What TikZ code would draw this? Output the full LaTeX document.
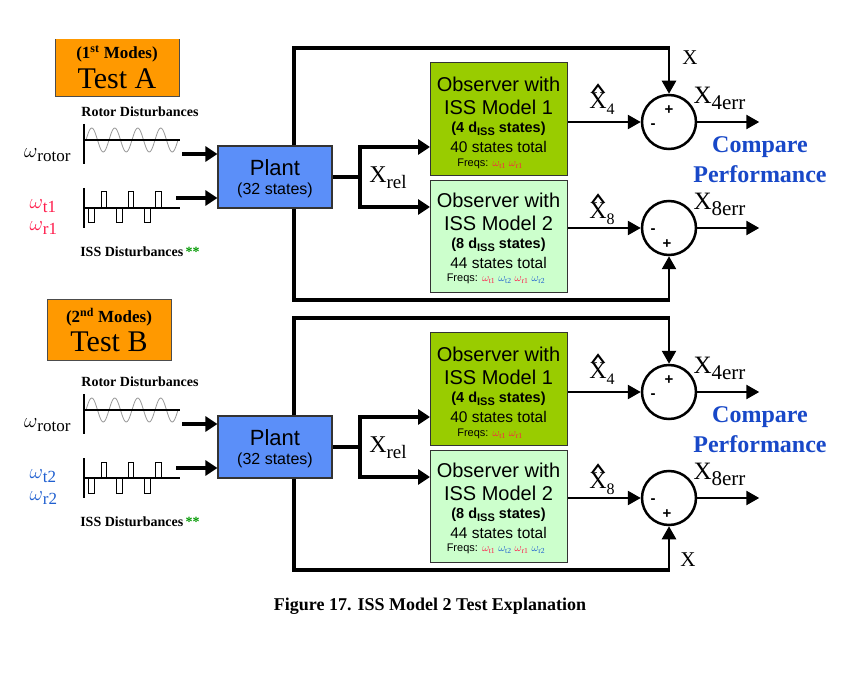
\documentclass[tikz,border=0pt]{standalone}
\usepackage{fontspec}
\setmainfont{Liberation Serif}
\setsansfont{Liberation Sans}
\usetikzlibrary{arrows.meta}
\definecolor{orng}{HTML}{FF9900}
\definecolor{plantc}{HTML}{5B8FF9}
\definecolor{obsA}{HTML}{99CC00}
\definecolor{obsB}{HTML}{CCFFCC}
\definecolor{wred}{HTML}{FF1A4A}
\definecolor{wblue}{HTML}{1F5FD0}
\definecolor{cmpblue}{HTML}{1848C8}
\begin{document}
\begin{tikzpicture}[x=1pt,y=-1pt,
  thick arrow/.style={line width=4pt,-{Triangle[length=12pt,width=15pt]}},
  bus/.style={line width=4pt},
  thin arrow/.style={line width=2.5pt,-{Triangle[length=13pt,width=14pt]}},
  blk/.style={draw=black!80,line width=1.2pt,inner sep=0pt,font=\sffamily,align=center},
  sum/.style={circle,draw,line width=2.5pt,minimum size=54pt,inner sep=0pt},
  lbl/.style={font=\bfseries\fontsize{14}{14}\selectfont},
  ol/.style={font=\sffamily\fontsize{20}{20}\selectfont,inner sep=0pt},
  os/.style={font=\sffamily\fontsize{15.5}{16}\selectfont,inner sep=0pt},
  cmp/.style={text=cmpblue,font=\bfseries\fontsize{24}{30}\selectfont,align=center},
  pm/.style={font=\sffamily\bfseries\fontsize{15}{15}\selectfont}]
\useasboundingbox[fill=white] (0,0) rectangle (860,695);
\newcommand\myhalf[7]{%
 \begin{scope}[yshift=-#1pt]
  \node[draw=black!70,line width=1pt,fill=orng,minimum width=124pt,minimum height=60pt,inner sep=0pt] (test#2) at (#6) {};
  \node[font=\fontsize{30}{30}\selectfont,inner sep=0pt] at ([yshift=-12pt]test#2.center) {#3};
  \node[font=\bfseries\fontsize{17}{17}\selectfont,inner sep=0pt] at ([yshift=13pt]test#2.center) {(#4 Modes)};
  \node[lbl] (rd#2) at (140,112) {Rotor Disturbances};
  \draw[gray!80,line width=0.8pt] plot[domain=86:178,samples=90] (\x,{140-12*sin((\x-86)*15.652)});
  \draw[line width=1.2pt] (84,124) -- (84,164) (84,140) -- (180,140);
  \node[font=\fontsize{22}{22}\selectfont,anchor=east] (wr#2) at (74,155) {$\omega$\raisebox{-4pt}{\fontsize{17}{17}\selectfont rotor}};
  \draw[line width=1.2pt] (84,188) -- (84,228) (84,208) -- (180,208);
  \draw[line width=1pt] (86,208) -- (88,208) -- (88,223) -- (94,223) -- (94,208) -- (101,208) -- (101,192) -- (106,192) -- (106,208)
     -- (116,208) -- (116,223) -- (122,223) -- (122,208) -- (128,208) -- (128,192) -- (133,192) -- (133,208)
     -- (144,208) -- (144,223) -- (150,223) -- (150,208) -- (155,208) -- (155,192) -- (161,192) -- (161,208) -- (178,208);
  \node[font=\fontsize{22}{22}\selectfont,text=#5,anchor=west] (wt#2) at (26,206) {$\omega$\raisebox{-4pt}{\fontsize{17}{17}\selectfont t#7}};
  \node[font=\fontsize{22}{22}\selectfont,text=#5,anchor=west] (wq#2) at (26,228) {$\omega$\raisebox{-4pt}{\fontsize{17}{17}\selectfont r#7}};
  \node[lbl] (iss#2) at (140,252) {ISS Disturbances\,\textcolor{green!60!black}{**}};
  \node[blk,fill=plantc,minimum width=114pt,minimum height=62pt] (plant#2) at (275,177) {};
  \node[font=\sffamily\fontsize{22}{22}\selectfont,inner sep=0pt] at (275,168) {Plant};
  \node[font=\sffamily\fontsize{16}{16}\selectfont,inner sep=0pt] at (275,190) {(32 states)};
  \coordinate (c1#2) at (182,154); \coordinate (c2#2) at (176,198);
  \draw[thick arrow] (c1#2) -- (c1#2 -| plant#2.west);
  \draw[thick arrow] (c2#2) -- (c2#2 -| plant#2.west);
  \node[blk,fill=obsA,minimum width=137pt,minimum height=113pt,anchor=north west] (oa#2) at (430,62) {};
  \node[ol] at (498.5,84) {Observer with};
  \node[ol] at (498.5,107) {ISS Model 1};
  \node[os,font=\sffamily\bfseries\fontsize{14.5}{15}\selectfont] at (498.5,129) {(4 d\raisebox{-3pt}{\fontsize{11}{11}\selectfont ISS} states)};
  \node[os] at (498.5,147) {40 states total};
  \node[inner sep=0pt,font=\sffamily\fontsize{11}{11}\selectfont] at (490,164) {Freqs: \textcolor{wred}{$\omega_{\mathrm{t1}}$ $\omega_{\mathrm{r1}}$}};
  \node[blk,fill=obsB,minimum width=137pt,minimum height=112pt,anchor=north west] (ob#2) at (430,180) {};
  \node[ol] at (498.5,200) {Observer with};
  \node[ol] at (498.5,223) {ISS Model 2};
  \node[os,font=\sffamily\bfseries\fontsize{14.5}{15}\selectfont] at (498.5,245) {(8 d\raisebox{-3pt}{\fontsize{11}{11}\selectfont ISS} states)};
  \node[os] at (498.5,263) {44 states total};
  \node[inner sep=0pt,font=\sffamily\fontsize{11}{11}\selectfont] at (496,279) {Freqs: \textcolor{wred}{$\omega_{\mathrm{t1}}$} \textcolor{wblue}{$\omega_{\mathrm{t2}}$} \textcolor{wred}{$\omega_{\mathrm{r1}}$} \textcolor{wblue}{$\omega_{\mathrm{r2}}$}};
  \coordinate (bus#2) at (360,177);
  \draw[bus] (plant#2.east |- bus#2) -- (bus#2);
  \draw[bus] (360,145) -- (360,209);
  \draw[thick arrow] (360,147) -- (oa#2.west |- 0,147);
  \draw[thick arrow] (360,207) -- (ob#2.west |- 0,207);
  \node[font=\fontsize{24}{24}\selectfont] (xr#2) at (388,178) {X\raisebox{-6pt}{\fontsize{19}{19}\selectfont rel}};
  \node[sum] (s1#2) at (669,122) {};
  \node[sum] (s2#2) at (669,228) {};
  \node[pm] at (669,110) {+};
  \node[pm] at (653,126) {-};
  \node[pm] at (653,231) {-};
  \node[pm] at (667,244) {+};
  \draw[thin arrow] (oa#2.east |- s1#2) -- (s1#2.west);
  \draw[thin arrow] (ob#2.east |- s2#2) -- (s2#2.west);
  \draw[thin arrow] (s1#2.east) -- ++(62,0);
  \draw[thin arrow] (s2#2.east) -- ++(62,0);
  \draw[line width=4pt] (plant#2.north -| 294,0) -- (294,48) -- (669,48);
  \draw[thin arrow] (669,46) -- (s1#2.north);
  \draw[line width=4pt] (plant#2.south -| 294,0) -- (294,300) -- (669,300);
  \draw[thin arrow] (669,302) -- (s2#2.south);
  \node[font=\fontsize{24}{24}\selectfont] (xh4#2) at (602,104) {X\raisebox{-6pt}{\fontsize{16}{16}\selectfont 4}};
  \draw[line width=2pt] (592,93) -- (598,85) -- (604,93);
  \node[font=\fontsize{24}{24}\selectfont] (xh8#2) at (602,214) {X\raisebox{-6pt}{\fontsize{16}{16}\selectfont 8}};
  \draw[line width=2pt] (592,203) -- (598,195) -- (604,203);
  \node[font=\fontsize{25}{25}\selectfont,anchor=west] (e4#2) at (690,98) {X\raisebox{-6pt}{\fontsize{21}{21}\selectfont 4err}};
  \node[font=\fontsize{25}{25}\selectfont,anchor=west] (e8#2) at (690,204) {X\raisebox{-6pt}{\fontsize{21}{21}\selectfont 8err}};
  \node[cmp] (cp#2) at (760,160) {Compare\\Performance};
 \end{scope}}
\myhalf{0}{A}{Test A}{1\textsuperscript{st}}{wred}{117,67}{1}
\myhalf{270}{B}{Test B}{2\textsuperscript{nd}}{wblue}{109,60}{2}
\node[font=\fontsize{21}{21}\selectfont] (xa) at (690,58) {X};
\node[font=\fontsize{21}{21}\selectfont] (xb) at (688,560) {X};
\fill[white] (0,0) rectangle (860,39);
\node[font=\bfseries\fontsize{18}{18}\selectfont] (cap) at (430,606) {Figure 17. ISS Model 2 Test Explanation};
\end{tikzpicture}
\end{document}
